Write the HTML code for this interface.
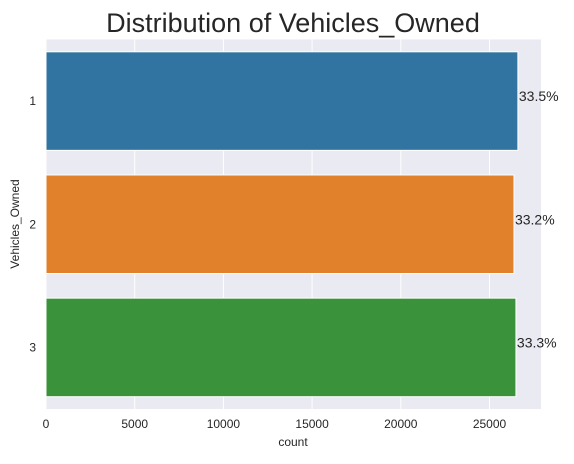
<!DOCTYPE html>
<html><head><meta charset="utf-8"><style>
body{margin:0;background:#fff;font-family:"Liberation Sans",sans-serif}
svg text{font-family:"Liberation Sans",sans-serif}
</style></head><body>
<svg id="chart" width="574" height="459">
<text x="293" y="32" font-size="27" fill="#262626" text-anchor="middle">Distribution of Vehicles_Owned</text>
<rect x="46" y="39.5" width="495" height="369.5" fill="#eaeaf2"/>
<g id="grid"></g><g id="bars"></g><g id="xticks"></g><g id="yticks"></g>
<text x="293" y="446" font-size="12" fill="#262626" text-anchor="middle">count</text>
<text transform="translate(19,224) rotate(-90)" font-size="12" fill="#262626" text-anchor="middle">Vehicles_Owned</text>
</svg>
<script>
const categories=["1","2","3"];
const counts=[26600,26380,26490];
const labels=["33.5%","33.2%","33.3%"];
const colors=["#3274a1","#e1812c","#3a923a"];
const xTicks=[0,5000,10000,15000,20000,25000];
const NS="http://www.w3.org/2000/svg";
const X0=46,PX=88.7/5000,TOP=39.5,BOT=409;
const x=v=>X0+v*PX;
const band=(BOT-TOP)/categories.length;
const y=i=>TOP+band*i+band/2;
function mk(t,a,p){const e=document.createElementNS(NS,t);for(const k in a)e.setAttribute(k,a[k]);p.appendChild(e);return e;}
const g=document.getElementById('grid'),b=document.getElementById('bars'),xt=document.getElementById('xticks'),yt=document.getElementById('yticks');
xTicks.forEach(v=>{
 const l=mk('line',{x1:x(v),x2:x(v),y1:TOP,y2:BOT,stroke:'#fff','stroke-width':1},g);
 
 
 const t=mk('text',{x:x(v),y:428,'font-size':12,fill:'#262626','text-anchor':'middle'},xt);t.textContent=v;
 
 
});
categories.forEach((c,i)=>{
 const h=band*0.8;
 const r=mk('rect',{x:X0,y:y(i)-h/2,width:x(counts[i])-X0,height:h,fill:colors[i],stroke:'#fff','stroke-width':1},b);
 
 
 const t=mk('text',{x:x(counts[i])+1,y:y(i)+0,'font-size':14,fill:'#262626'},b);t.textContent=labels[i];
 
 
 const yl=mk('text',{x:36,y:y(i)+4,'font-size':12,fill:'#262626','text-anchor':'end'},yt);yl.textContent=c;
 
 
});
</script>
</body></html>
